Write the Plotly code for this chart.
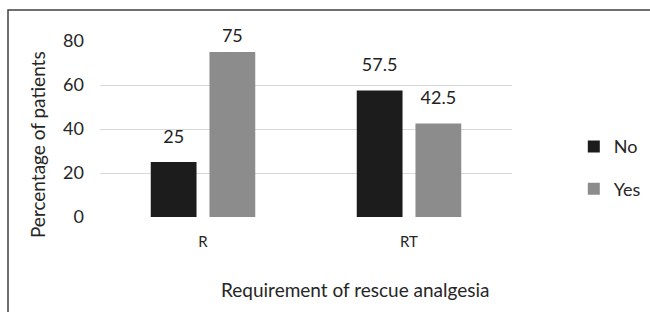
import plotly.graph_objects as go

categories = ["R", "RT"]
no_values = [25, 57.5]
yes_values = [75, 42.5]
series_names = ["No", "Yes"]
y_ticks = [0, 20, 40, 60, 80]
x_title = "Requirement of rescue analgesia"
y_title = "Percentage of patients"

FONT = "Lato, 'Open Sans', sans-serif"
TXT = "#262626"
COLORS = ["#1c1c1c", "#8c8c8c"]

fig = go.Figure()
for name, vals, col, grp in [(series_names[0], no_values, COLORS[0], "a"),
                             (series_names[1], yes_values, COLORS[1], "b")]:
    fig.add_trace(go.Bar(
        x=categories, y=vals, name=name,
        marker=dict(color=col, line=dict(width=0)),
        legendgroup=grp,
    ))
# value labels, aligned with the grouped bars (invisible markers set the label offset)
for name, vals, grp, pads in [(series_names[0], no_values, "a", [22, 22]),
                              (series_names[1], yes_values, "b", [8, 22])]:
    fig.add_trace(go.Scatter(
        x=categories, y=vals, mode="markers+text",
        text=[f"{v:g}" for v in vals], textposition="top center",
        textfont=dict(family=FONT, size=18, color="#222222"),
        marker=dict(size=pads, opacity=0),
        showlegend=False, hoverinfo="skip", cliponaxis=False,
        legendgroup=grp,
    ))

fig.update_layout(
    width=650, height=312,
    margin=dict(l=100, r=138, t=41, b=95, autoexpand=False),
    paper_bgcolor="white", plot_bgcolor="white",
    barmode="group", bargap=0.43, bargroupgap=0.22,
    scattermode="group", scattergap=0.43,
    font=dict(family=FONT, color=TXT),
    showlegend=True,
    legend=dict(
        x=1.15, xanchor="left", y=0.28, yanchor="middle",
        font=dict(family=FONT, size=18, color=TXT),
        tracegroupgap=16, traceorder="grouped",
        bgcolor="rgba(0,0,0,0)",
    ),
    xaxis=dict(
        showgrid=False, showline=False, zeroline=False,
        tickfont=dict(family=FONT, size=15, color=TXT),
        ticklabelstandoff=14,
    ),
    yaxis=dict(
        range=[0, 80], tickvals=y_ticks,
        showgrid=True, gridcolor="#d9d9d9", gridwidth=1,
        zeroline=False, showline=False,
        tickfont=dict(family=FONT, size=18, color=TXT),
        ticklabelstandoff=15,
    ),
    annotations=[
        dict(text=x_title, xref="paper", yref="paper", x=0.619, y=-0.41,
             xanchor="center", yanchor="middle", showarrow=False,
             font=dict(family=FONT, size=19, color=TXT)),
        dict(text=y_title, xref="paper", yref="paper", x=-0.150, y=0.41,
             xanchor="center", yanchor="middle", showarrow=False, textangle=-90,
             font=dict(family=FONT, size=19, color=TXT)),
    ],
    shapes=[dict(type="rect", xref="paper", yref="paper",
                 x0=-0.2233, x1=1.5, y0=-1.0, y1=1.176,
                 line=dict(color="#404040", width=1.5), layer="below")],
)

fig.write_html("out.html", config={"displayModeBar": False},
               post_script="document.body.style.margin='0';")
